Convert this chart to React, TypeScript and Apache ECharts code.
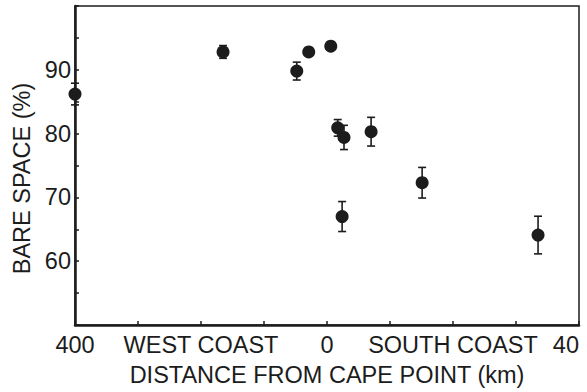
import React, { useEffect, useRef } from "react";
import * as echarts from "echarts";

// Sites: coast ("W" = west coast, "S" = south coast) and distance from Cape Point (km)
const coast: string[] = ["W", "W", "W", "W", "S", "S", "S", "S", "S", "S", "S"];
const distanceKm: number[] = [400, 165, 48, 29, 0.6, 1.7, 2.7, 7.0, 15.1, 2.4, 33.5];
const bareSpace: number[] = [86.2, 92.8, 89.8, 92.8, 93.7, 80.9, 79.4, 80.3, 72.3, 67.0, 64.1];
const errorPct: number[] = [1.7, 1.0, 1.4, 0, 0, 1.3, 1.9, 2.25, 2.4, 2.35, 2.95];

// x-axis tick labels at axis units 0..8 (blank = minor tick)
const xTickLabels: string[] = ["400", "", "WEST COAST", "", "0", "", "SOUTH COAST", "", "40"];
const yTickLabels: number[] = [60, 70, 80, 90];

// broken scale: west coast 400..0 km over 4 units, south coast 0..40 km over 4 units
const toAxis = (c: string, d: number) => (c === "W" ? 4 - d / 100 : 4 + d / 10);

const FONT = "'Liberation Sans', Arial, Helvetica, sans-serif";
const INK = "#1c1c1c";

export default function App() {
  const ref = useRef<HTMLDivElement>(null);
  useEffect(() => {
    if (!ref.current) return;
    const chart = echarts.init(ref.current, undefined, { renderer: "svg" });
    const pts = distanceKm.map((d, i) => [toAxis(coast[i], d), bareSpace[i], errorPct[i]]);
    chart.setOption({
      animation: false,
      backgroundColor: "#ffffff",
      grid: {
        left: 75,
        right: 8,
        top: 6,
        bottom: 66,
        show: true,
        borderColor: INK,
        borderWidth: 1.5,
        backgroundColor: "transparent",
      },
      xAxis: {
        type: "value",
        min: 0,
        max: 8,
        interval: 1,
        name: "DISTANCE FROM CAPE POINT (km)",
        nameLocation: "middle",
        nameGap: 38,
        nameTextStyle: { fontFamily: FONT, fontSize: 23.5, color: INK },
        splitLine: { show: false },
        axisLine: { show: true, onZero: false, lineStyle: { color: INK, width: 2.5 } },
        axisTick: { show: true, inside: true, length: 4, lineStyle: { color: INK, width: 1.5 } },
        axisLabel: {
          show: true,
          margin: 8,
          fontFamily: FONT,
          fontSize: 23.5,
          color: INK,
          alignMaxLabel: "right",
          formatter: (v: number) => xTickLabels[Math.round(v)] ?? "",
        },
      },
      yAxis: {
        type: "value",
        min: 50,
        max: 100,
        interval: 5,
        name: "BARE SPACE (%)",
        nameLocation: "middle",
        nameGap: 40,
        nameTextStyle: { fontFamily: FONT, fontSize: 23.5, color: INK, padding: [0, 26, 0, 0] },
        splitLine: { show: false },
        axisLine: { show: true, onZero: false, lineStyle: { color: INK, width: 2.5 } },
        axisTick: { show: true, inside: true, length: 4, lineStyle: { color: INK, width: 1.5 } },
        axisLabel: {
          show: true,
          margin: 4,
          fontFamily: FONT,
          fontSize: 23.5,
          color: INK,
          formatter: (v: number) => (yTickLabels.includes(v) ? String(v) : ""),
        },
      },
      series: [
        {
          type: "custom",
          z: 1,
          data: pts,
          renderItem: (params: any, api: any) => {
            const x = api.value(0);
            const y = api.value(1);
            const e = api.value(2);
            if (!e) return { type: "group", children: [] };
            const top = api.coord([x, y + e]);
            const bot = api.coord([x, y - e]);
            const hw = 4;
            const style = { stroke: INK, lineWidth: 1.6 };
            return {
              type: "group",
              children: [
                { type: "line", shape: { x1: top[0], y1: top[1], x2: bot[0], y2: bot[1] }, style },
                { type: "line", shape: { x1: top[0] - hw, y1: top[1], x2: top[0] + hw, y2: top[1] }, style },
                { type: "line", shape: { x1: bot[0] - hw, y1: bot[1], x2: bot[0] + hw, y2: bot[1] }, style },
              ],
            };
          },
        },
        {
          type: "scatter",
          z: 2,
          symbol: "circle",
          symbolSize: 13,
          itemStyle: { color: INK, opacity: 1 },
          data: pts.map((p) => [p[0], p[1]]),
        },
      ],
    });
    return () => chart.dispose();
  }, []);
  return <div ref={ref} style={{ width: 587, height: 392, position: "absolute", left: 0, top: 0 }} />;
}
